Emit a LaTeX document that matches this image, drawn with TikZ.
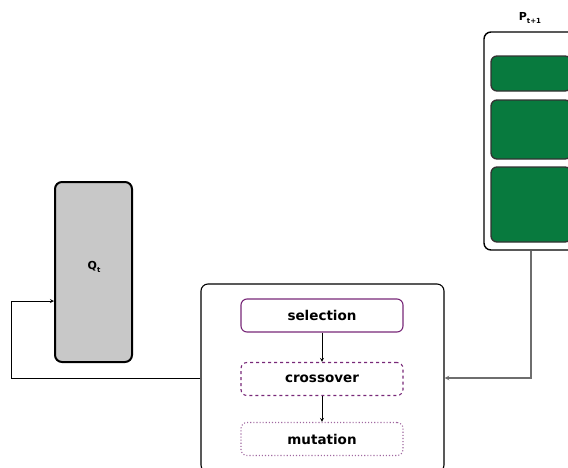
\documentclass[tikz,border=0pt]{standalone}
\usepackage{fontspec}
\setmainfont{DejaVu Sans}
\usetikzlibrary{shapes,arrows,positioning,calc}
\definecolor{popgreen}{RGB}{8,122,62}
\definecolor{popgray}{RGB}{200,200,200}
\definecolor{oppurple}{RGB}{120,40,120}
\definecolor{linkgray}{RGB}{110,110,110}
\newcommand{\lowsub}[1]{\raisebox{-0.45ex}{\fontsize{7}{7}\selectfont #1}}
\tikzset{
    popbox/.style={rectangle, rounded corners=7pt, draw=black, line width=1.4pt, inner sep=0pt},
    popQ/.style={popbox, fill=popgray, line width=2pt, minimum width=77pt, minimum height=180pt},
    popP/.style={popbox, fill=white, minimum width=94pt, minimum height=218pt},
    indiv/.style={rectangle, rounded corners=6pt, draw=black!80, fill=popgreen, line width=1.3pt, minimum width=80pt},
    opsbox/.style={rectangle, rounded corners=7pt, draw=black, line width=1.1pt, minimum width=243pt, minimum height=188pt},
    opbase/.style={rectangle, rounded corners=6pt, line width=1.1pt, minimum width=162pt, minimum height=33pt, font=\fontsize{13.5}{15}\selectfont\bfseries},
    opsel/.style={opbase, draw=oppurple},
    opcross/.style={opbase, draw=oppurple, dashed},
    opmut/.style={opbase, draw=oppurple!70, dotted},
    poplabel/.style={font=\fontsize{11}{13}\selectfont\bfseries},
    link/.style={-stealth, line width=0.8pt, black},
    glink/.style={-stealth, line width=1.1pt, linkgray},
}
\begin{document}
\begin{tikzpicture}[x=1pt,y=-1pt]
    \useasboundingbox (0,0) rectangle (568,467);
    \clip (0,0) rectangle (568,467);
    % parent population Q_t
    \node[popQ] (Q) at (93.5,272) {};
    \node[poplabel] (qlabel) at (94,267) {Q\lowsub{t}};
    % next population P_{t+1}
    \node[poplabel] (plabel) at (530,18) {P\lowsub{t+1}};
    \node[popP] (P) at (531,141) {};
    \node[indiv, minimum height=35pt] (ind1) at (531,73.5) {};
    \node[indiv, minimum height=59pt] (ind2) at (531,129.5) {};
    \node[indiv, minimum height=75pt] (ind3) at (531,204.5) {};
    % genetic operators
    \node[opsbox] (ops) at (322.5,378) {};
    \node[opsel] (sel) at (322,315.5) {selection};
    \node[opcross] (cross) at (322,379) {crossover};
    \node[opmut] (mut) at (322,439) {mutation};
    \draw[link] (sel) -- (cross);
    \draw[link] (cross) -- (mut);
    % loops
    \coordinate (back) at (11,301);
    \draw[glink] (P.south) |- (ops.east);
    \draw[link] (ops.west) -| (back) -- (back -| Q.west);
\end{tikzpicture}
\end{document}
